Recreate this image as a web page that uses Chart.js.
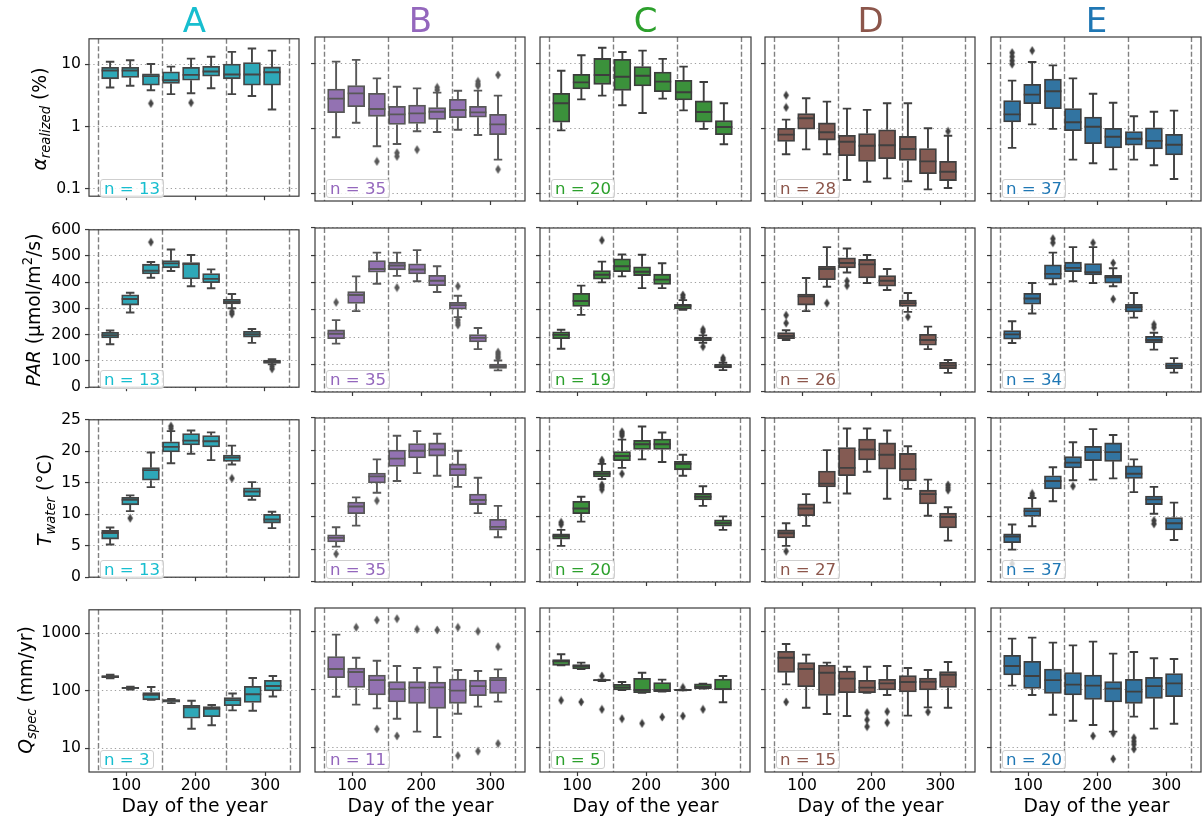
<!DOCTYPE html>
<html>
<head>
<meta charset="utf-8">
<title>Seasonal box plots by site</title>
<script src="https://cdn.jsdelivr.net/npm/chart.js@4.4.1/dist/chart.umd.min.js"></script>
<style>
  html, body { margin: 0; padding: 0; background: #fff; }
  #page { position: relative; width: 1203px; height: 821px; overflow: hidden; font-family: 'DejaVu Sans', sans-serif; }
  #page canvas { position: absolute; }
  .anchor { position: absolute; width: 0; height: 0; }
  .anchor > span { position: absolute; left: 0; transform: translateX(-50%); white-space: nowrap; line-height: 1; }
  .sub { font-size: 70%; position: relative; top: 0.28em; }
  .sup { font-size: 70%; position: relative; top: -0.6em; }
  .nbox { position: absolute; height: 17px; line-height: 17px; font-size: 16.6px; padding: 0 3px;
          border: 1px solid #cfcfcf; border-radius: 3px; background: rgba(255,255,255,0.8); white-space: nowrap; }
</style>
</head>
<body>
<div id="page"></div>
<script>
// ---- data -------------------------------------------------------------
const sites = ['A', 'B', 'C', 'D', 'E'];
const days = [77, 106, 136, 165, 194, 223, 253, 282, 311];
const seasonStarts = [59, 152, 244, 335];
const dayTicks = [100, 200, 300];

const alphaTicks = [0.1, 1, 10];
const alphaTickLabels = ['0.1', '1', '10'];
const parTicks = [0, 100, 200, 300, 400, 500, 600];
const tempTicks = [0, 5, 10, 15, 20, 25];
const qTicks = [10, 100, 1000];
const qTickLabels = ['10', '100', '1000'];

const nAlpha = [13, 35, 20, 28, 37];
const nPar = [13, 35, 19, 26, 34];
const nTemp = [13, 35, 20, 27, 37];
const nQ = [3, 11, 5, 15, 20];

// each box: [lower whisker, q1, median, q3, upper whisker]; fliers: [box index, value]
const alphaA = [[4.2, 5.8, 7.9, 8.9, 10.9], [4.5, 6.1, 7.9, 8.9, 11.5], [3.8, 4.6, 6.4, 7.0, 10.0],
  [3.3, 4.9, 5.5, 7.5, 9.1], [3.4, 5.5, 6.7, 8.9, 12.2], [4.1, 6.4, 7.6, 9.2, 13.1],
  [3.3, 5.8, 6.8, 10.0, 15.7], [3.07, 4.6, 6.8, 10.6, 17.8], [1.87, 4.6, 7.4, 9.0, 16.4]];
const alphaFliersA = [[2, 2.34], [4, 2.4]];
const alphaB = [[0.73, 1.74, 2.86, 4.03, 10.6], [1.22, 2.15, 3.45, 4.53, 11.3], [0.53, 1.53, 1.98, 3.45, 5.87],
  [0.574, 1.15, 1.64, 2.18, 4.37], [0.9, 1.19, 1.7, 2.28, 4.12], [0.88, 1.37, 1.8, 2.08, 3.54],
  [0.95, 1.46, 1.91, 2.79, 3.79], [0.79, 1.48, 1.76, 2.18, 3.8], [0.33, 0.8, 1.15, 1.64, 3.18]];
const alphaFliersB = [[2, 0.31], [3, 0.42], [3, 0.37], [4, 0.47], [5, 4.27], [5, 3.88],
  [7, 5.28], [7, 4.81], [7, 4.48], [8, 6.62], [8, 0.234]];
const alphaC = [[0.93, 1.24, 2.43, 3.45, 7.7], [2.79, 4.03, 5.1, 6.78, 13.3], [3.18, 4.75, 6.6, 11.9, 17.4],
  [2.26, 3.84, 6.2, 11.5, 14.9], [1.72, 4.48, 6.45, 8.9, 15.7], [2.86, 3.67, 5.23, 7.36, 11.7],
  [1.89, 2.73, 3.58, 5.47, 8.9], [0.98, 1.24, 1.78, 2.64, 5.17], [0.57, 0.8, 1.05, 1.31, 2.43]];
const alphaFliersC = [];
const alphaD = [[0.4, 0.63, 0.8, 1.0, 1.36], [0.475, 0.97, 1.43, 1.68, 2.9], [0.4, 0.66, 0.87, 1.21, 2.57],
  [0.16, 0.38, 0.62, 0.78, 2.01], [0.151, 0.31, 0.54, 0.83, 1.92], [0.17, 0.34, 0.55, 0.95, 2.43],
  [0.153, 0.32, 0.48, 0.75, 2.43], [0.115, 0.2, 0.31, 0.49, 1.0], [0.121, 0.157, 0.215, 0.31, 0.77]];
const alphaFliersD = [[0, 3.22], [0, 2.1], [8, 0.9]];
const alphaE = [[0.5, 1.25, 1.64, 2.67, 5.41], [1.15, 2.39, 3.3, 4.75, 10.5], [0.98, 2.01, 3.71, 5.74, 9.3],
  [0.33, 0.92, 1.24, 2.01, 5.87], [0.29, 0.58, 1.06, 1.49, 3.41], [0.234, 0.5, 0.74, 1.0, 2.48],
  [0.33, 0.55, 0.69, 0.89, 1.53], [0.27, 0.48, 0.64, 1.02, 1.8], [0.166, 0.39, 0.56, 0.81, 1.87]];
const alphaFliersE = [[0, 14.6], [0, 12.7], [0, 11.0], [0, 9.7], [1, 15.7]];

const parA = [[164, 188, 198, 209, 216], [285, 313, 336, 352, 360], [417, 432, 444, 469, 477],
  [443, 455, 472, 483, 525], [385, 413, 469, 475, 504], [377, 398, 413, 433, 449],
  [301, 317, 325, 335, 355], [169, 191, 202, 213, 222], [87, 91, 97, 103, 107]];
const parFliersA = [[2, 553], [6, 288], [6, 279], [8, 80], [8, 70]];
const parB = [[177, 195, 213, 227, 263], [296, 324, 355, 367, 423], [396, 438, 450, 481, 510],
  [425, 447, 463, 475, 510], [405, 432, 448, 469, 519], [366, 389, 407, 427, 460],
  [274, 303, 318, 328, 352], [157, 183, 198, 210, 234], [79, 86, 94, 102, 115]];
const parFliersB = [[0, 328], [3, 382], [6, 387], [6, 264], [6, 254], [6, 245],
  [8, 146], [8, 139], [8, 131], [8, 124]];
const parC = [[158, 195, 209, 220, 228], [282, 313, 333, 361, 389], [401, 413, 429, 444, 477],
  [423, 440, 460, 487, 503], [380, 426, 440, 458, 502], [380, 394, 411, 431, 471],
  [301, 304, 315, 321, 336], [180, 188, 195, 201, 207], [80, 88, 94, 101, 107]];
const parFliersC = [[2, 555], [6, 355], [6, 345], [7, 229], [7, 220], [7, 166], [8, 125], [8, 117]];
const parD = [[190, 195, 205, 217, 226], [296, 318, 350, 358, 417], [385, 411, 450, 460, 530],
  [437, 454, 472, 491, 525], [399, 417, 467, 485, 501], [373, 387, 407, 426, 450],
  [293, 313, 325, 336, 362], [157, 171, 190, 211, 239], [70, 85, 97, 109, 117]];
const parFliersD = [[0, 281], [0, 252], [2, 325], [3, 406], [3, 389], [6, 275]];
const parE = [[179, 193, 211, 225, 259], [287, 321, 342, 361, 399], [394, 413, 432, 465, 510],
  [405, 440, 454, 475, 530], [399, 428, 438, 470, 530], [387, 398, 420, 427, 453],
  [272, 293, 310, 321, 362], [155, 180, 190, 204, 217], [71, 85, 96, 107, 124]];
const parFliersE = [[2, 561], [2, 546], [4, 546], [5, 472], [5, 340], [7, 247], [7, 236]];

const tempA = [[5.19, 6.06, 7.03, 7.43, 7.9], [10.5, 11.5, 12.3, 12.7, 13.0], [14.3, 15.4, 17.0, 17.4, 19.8],
  [18.1, 19.9, 20.7, 21.5, 23.2], [19.6, 21.0, 21.7, 22.8, 23.3], [18.6, 20.7, 21.6, 22.5, 23.0],
  [17.9, 18.4, 19.0, 19.4, 20.9], [12.3, 12.8, 13.6, 14.2, 15.1], [7.8, 8.6, 9.16, 9.98, 10.4]];
const tempFliersA = [[1, 9.37], [3, 24.0], [3, 23.6], [6, 15.7]];
const tempB = [[5.4, 6.11, 6.72, 7.18, 8.35], [8.6, 10.4, 11.5, 12.2, 12.9], [13.6, 15.1, 16.1, 16.6, 18.7],
  [15.4, 17.6, 18.8, 20.1, 22.3], [16.6, 18.9, 20.0, 21.1, 23.0], [16.2, 19.2, 20.2, 21.2, 22.6],
  [14.5, 16.2, 17.2, 18.0, 20.0], [10.5, 11.8, 12.5, 13.4, 15.9], [6.82, 7.9, 8.4, 9.57, 11.6]];
const tempFliersB = [[0, 4.28], [2, 12.4]];
const tempC = [[5.5, 6.52, 6.98, 7.33, 7.94], [9.2, 10.4, 11.2, 12.3, 13.0], [15.7, 16.0, 16.5, 16.9, 18.0],
  [17.4, 18.5, 19.2, 19.9, 21.7], [18.7, 20.2, 21.0, 21.6, 23.7], [18.3, 20.2, 21.0, 21.8, 22.8],
  [16.2, 17.1, 18.0, 18.4, 19.4], [11.6, 12.5, 13.0, 13.5, 14.6], [7.94, 8.5, 8.96, 9.47, 10.0]];
const tempFliersC = [[0, 9.1], [0, 8.76], [2, 18.6], [2, 18.3], [2, 14.8], [2, 14.5], [2, 14.1],
  [3, 22.9], [3, 22.6], [3, 22.3], [3, 16.5]];
const tempD = [[5.5, 6.72, 7.43, 7.94, 8.96], [8.55, 10.1, 11.2, 11.9, 13.4], [12.1, 14.5, 15.0, 16.9, 20.1],
  [13.5, 16.2, 17.4, 20.5, 23.4], [16.8, 18.6, 20.2, 21.8, 23.4], [12.7, 17.2, 19.4, 21.2, 23.1],
  [14.2, 15.4, 17.2, 19.6, 20.7], [10.1, 11.9, 13.4, 14.0, 15.6], [6.3, 8.25, 9.9, 10.5, 11.4]];
const tempFliersD = [[0, 4.68], [8, 14.8], [8, 14.4], [8, 14.0]];
const tempE = [[4.94, 6.0, 6.92, 7.33, 8.76], [8.5, 10.0, 10.8, 11.3, 12.8], [12.3, 14.2, 15.4, 16.2, 17.5],
  [15.5, 17.4, 18.2, 19.1, 21.3], [15.6, 18.5, 19.8, 20.7, 23.3], [15.8, 18.4, 19.8, 21.2, 22.4],
  [13.7, 15.8, 16.5, 17.7, 18.7], [10.4, 11.8, 12.6, 13.1, 14.5], [6.4, 7.94, 8.96, 9.83, 12.1]];
const tempFliersE = [[0, 2.8], [1, 13.5], [1, 13.1], [3, 14.6], [7, 9.37], [7, 8.86]];

const qA = [[164, 168, 176, 183, 190], [105, 109, 112, 115, 118], [69.5, 69.5, 85, 93, 116],
  [61, 63.4, 66.9, 70.5, 72], [21.8, 33.2, 51.4, 55.6, 67], [25.2, 35.5, 48.7, 52.8, 56.4],
  [45.6, 54.9, 68.7, 76.3, 89.3], [45, 62.7, 87.1, 119, 166], [79.4, 99.4, 121, 152, 180]];
const qFliersA = [];
const qB = [[76, 162, 228, 372, 888], [55.6, 110, 203, 237, 357], [48.1, 81.5, 147, 180, 317],
  [31.9, 61.8, 103, 138, 257], [19.1, 58.6, 109, 138, 237], [15.5, 48.1, 110, 136, 244],
  [38.9, 58.6, 96.8, 153, 219], [51.4, 79.4, 116, 147, 211], [62.7, 87.1, 147, 164, 225]];
const qFliersB = [[1, 1187], [2, 1585], [2, 21.2], [3, 1670], [3, 16.1], [4, 1096], [5, 1069],
  [6, 1187], [6, 7.4], [7, 1013], [7, 8.8], [8, 552], [8, 11.9]];
const qC = [[264, 264, 309, 330, 408], [228, 228, 254, 271, 293], [142, 142, 147, 150, 150],
  [99.4, 99.4, 110, 124, 136], [89.3, 89.3, 99.4, 158, 197], [93, 93, 99.4, 133, 150],
  [98, 98, 99.4, 100.7, 100.7], [105, 105, 113, 127, 128], [61, 99.4, 103, 153, 173]];
const qFliersC = [[0, 65.9], [1, 61.8], [2, 173], [2, 46.2], [3, 31.9], [4, 26.5], [5, 34.1],
  [6, 110], [6, 35.5], [7, 46.2]];
const qD = [[124, 200, 357, 459, 614], [49.3, 113, 228, 293, 403], [38.5, 80.4, 197, 267, 293],
  [35.5, 89.3, 156, 211, 250], [89.3, 89.3, 109, 146, 250], [81.5, 99.4, 129, 152, 257],
  [36, 91.9, 136, 175, 237], [50, 99.4, 138, 160, 219], [49.3, 110, 182, 205, 301]];
const qFliersD = [[0, 61.8], [4, 40.5], [4, 30.5], [4, 23.3], [5, 42.2], [5, 27.3], [7, 41.6]];
const qE = [[118, 180, 257, 392, 759], [81.5, 106, 173, 309, 789], [37.4, 87.1, 147, 228, 647],
  [29.5, 81.5, 123, 197, 582], [24.8, 68.7, 118, 180, 673], [19.1, 61.8, 105, 138, 419],
  [34.6, 58.6, 93, 152, 447], [21.5, 71.4, 116, 164, 348], [26.2, 76.3, 129, 190, 339]];
const qFliersE = [[4, 16.1], [5, 17.9], [5, 6.5], [6, 15.0], [6, 13.0], [6, 11.5], [6, 9.6]];

// ---- styling ----------------------------------------------------------
const FONT = 'DejaVu Sans';
const siteColors = ['#17becf', '#9467bd', '#2ca02c', '#8c564b', '#1f77b4'];
const boxFills = ['#2ea8b8', '#9372b2', '#3b913b', '#845b53', '#3274a1'];
const lineGrays = ['#454545', '#585858', '#3d3d3d', '#404040', '#3f3f3f'];
const colLeft = [89, 315, 540, 765, 991];
const rowTop = [37, 228, 418, 608];
const PLOT_W = 211, PLOT_H = 164, BOX_W = 17;

const rows = [
  { stats: [alphaA, alphaB, alphaC, alphaD, alphaE],
    fliers: [alphaFliersA, alphaFliersB, alphaFliersC, alphaFliersD, alphaFliersE],
    counts: nAlpha, type: 'logarithmic', min: 0.0762, max: 25.4,
    ticks: alphaTicks, tickLabels: alphaTickLabels,
    label: '<i>α</i><span class="sub"><i>realized</i></span> (%)', labelX: 47 },
  { stats: [parA, parB, parC, parD, parE],
    fliers: [parFliersA, parFliersB, parFliersC, parFliersD, parFliersE],
    counts: nPar, type: 'linear', min: 0, max: 600,
    ticks: parTicks, tickLabels: parTicks.map(String),
    label: '<i>PAR</i> (μmol/m<span class="sup">2</span>/s)', labelX: 40.5 },
  { stats: [tempA, tempB, tempC, tempD, tempE],
    fliers: [tempFliersA, tempFliersB, tempFliersC, tempFliersD, tempFliersE],
    counts: nTemp, type: 'linear', min: 0, max: 25,
    ticks: tempTicks, tickLabels: tempTicks.map(String),
    label: '<i>T</i><span class="sub"><i>water</i></span> (°C)', labelX: 51.5 },
  { stats: [qA, qB, qC, qD, qE],
    fliers: [qFliersA, qFliersB, qFliersC, qFliersD, qFliersE],
    counts: nQ, type: 'logarithmic', min: 3.87, max: 2550,
    ticks: qTicks, tickLabels: qTickLabels,
    label: '<i>Q</i><span class="sub"><i>spec</i></span> (mm/yr)', labelX: 33 }
];

const page = document.getElementById('page');

// thin diamond marker used for fliers
function diamond(color) {
  const c = document.createElement('canvas');
  c.width = 7; c.height = 10;
  const g = c.getContext('2d');
  g.fillStyle = color;
  g.beginPath();
  g.moveTo(3.5, 0.5); g.lineTo(6.3, 5); g.lineTo(3.5, 9.5); g.lineTo(0.7, 5);
  g.closePath(); g.fill();
  return c;
}

// whiskers, caps, medians, season boundaries and the panel frame
function boxPlugin(stats, gray) {
  return {
    id: 'boxDecor',
    beforeDatasetsDraw(chart) {
      const { ctx, chartArea: a, scales: { x } } = chart;
      ctx.save();
      ctx.strokeStyle = '#808080';
      ctx.lineWidth = 1.4;
      ctx.setLineDash([5, 2.4]);
      seasonStarts.forEach(d => {
        const px = Math.round(x.getPixelForValue(d)) + 0.5;
        ctx.beginPath(); ctx.moveTo(px, a.top); ctx.lineTo(px, a.bottom); ctx.stroke();
      });
      ctx.restore();
    },
    afterDatasetsDraw(chart) {
      const { ctx, scales: { x, y } } = chart;
      const half = BOX_W / 2, cap = BOX_W / 4;
      ctx.save();
      ctx.strokeStyle = gray;
      ctx.lineWidth = 1.9;
      stats.forEach((s, i) => {
        const px = x.getPixelForValue(days[i]);
        const [lo, q1, med, q3, hi] = s.map(v => y.getPixelForValue(v));
        ctx.beginPath();
        ctx.moveTo(px, q1); ctx.lineTo(px, lo);
        ctx.moveTo(px - cap, lo); ctx.lineTo(px + cap, lo);
        ctx.moveTo(px, q3); ctx.lineTo(px, hi);
        ctx.moveTo(px - cap, hi); ctx.lineTo(px + cap, hi);
        ctx.moveTo(px - half, med); ctx.lineTo(px + half, med);
        ctx.stroke();
      });
      ctx.restore();
    },
    afterDraw(chart) {
      const { ctx, chartArea: a } = chart;
      ctx.save();
      ctx.strokeStyle = '#3a3a3a';
      ctx.lineWidth = 1.2;
      ctx.strokeRect(a.left, a.top, a.width, a.height);
      ctx.restore();
    }
  };
}

function drawPanel(r, c) {
  const row = rows[r];
  const first = c === 0, bottom = r === rows.length - 1;
  const yw = first ? 60 : 5;
  const xh = bottom ? 26 : 5;
  const pad = { left: 2, top: 10, right: 4, bottom: 2 };
  const canvas = document.createElement('canvas');
  canvas.width = pad.left + yw + PLOT_W + pad.right;
  canvas.height = pad.top + PLOT_H + xh + pad.bottom;
  canvas.style.left = (colLeft[c] - pad.left - yw) + 'px';
  canvas.style.top = (rowTop[r] - pad.top) + 'px';
  page.appendChild(canvas);

  const stats = row.stats[c];
  const gray = lineGrays[c];
  const tickFont = { family: FONT, size: 15.6, lineHeight: 1 };

  new Chart(canvas, {
    type: 'bar',
    data: {
      datasets: [
        {
          type: 'bar',
          data: stats.map((s, i) => ({ x: days[i], y: [s[1], s[3]] })),
          backgroundColor: boxFills[c],
          borderColor: gray,
          borderWidth: 1.8,
          borderSkipped: false,
          barThickness: BOX_W,
          grouped: false
        },
        {
          type: 'scatter',
          data: row.fliers[c].map(([i, v]) => ({ x: days[i], y: v })),
          pointStyle: diamond(gray),
          pointRadius: 4
        }
      ]
    },
    options: {
      responsive: false,
      animation: false,
      events: [],
      layout: { padding: pad },
      plugins: { legend: { display: false }, tooltip: { enabled: false } },
      scales: {
        x: {
          type: 'linear', min: 46.5, max: 350, offset: false,
          afterBuildTicks: ax => { ax.ticks = dayTicks.map(v => ({ value: v })); },
          afterFit: ax => { ax.height = xh; },
          grid: { drawOnChartArea: false, drawTicks: true, tickLength: 4, tickColor: '#3a3a3a', tickWidth: 1.2, offset: false },
          border: { display: false },
          ticks: { display: bottom, padding: 2, color: '#000', font: tickFont, autoSkip: false, maxRotation: 0 }
        },
        y: {
          type: row.type, min: row.min, max: row.max,
          afterBuildTicks: ax => { ax.ticks = row.ticks.map(v => ({ value: v })); },
          afterFit: ax => { ax.width = yw; },
          grid: { color: '#a0a0a0', lineWidth: 1.1, tickLength: 4, tickColor: '#3a3a3a', tickWidth: 1.2 },
          border: { display: false, dash: [1.3, 3] },
          ticks: { display: first, padding: 4, color: '#000', font: tickFont, autoSkip: false,
                   callback: (v, i) => row.tickLabels[i] }
        }
      }
    },
    plugins: [boxPlugin(stats, gray)]
  });

  // sample count box in the lower left corner
  const nb = document.createElement('div');
  nb.className = 'nbox';
  nb.textContent = 'n = ' + row.counts[c];
  nb.style.color = siteColors[c];
  nb.style.left = (colLeft[c] + 11) + 'px';
  nb.style.top = (rowTop[r] + PLOT_H - 3.5 - 19) + 'px';
  page.appendChild(nb);
}

// text placed by its baseline centre; rotated labels read bottom to top
function addText(html, x, y, size, color, rotate) {
  const a = document.createElement('div');
  a.className = 'anchor';
  a.style.left = x + 'px';
  a.style.top = y + 'px';
  if (rotate) a.style.transform = 'rotate(-90deg)';
  const s = document.createElement('span');
  s.innerHTML = html;
  s.style.fontSize = size + 'px';
  s.style.bottom = (-0.154 * size) + 'px';
  s.style.color = color;
  a.appendChild(s);
  page.appendChild(a);
}

rows.forEach((row, r) => {
  sites.forEach((site, c) => drawPanel(r, c));
  addText(row.label, row.labelX, rowTop[r] + PLOT_H / 2, 18.8, '#000', true);
});
sites.forEach((site, c) => {
  const cx = colLeft[c] + PLOT_W / 2;
  addText(site, cx, 31.7, 34, siteColors[c], false);
  addText('Day of the year', cx, 813, 18.8, '#000', false);
});
</script>
</body>
</html>
